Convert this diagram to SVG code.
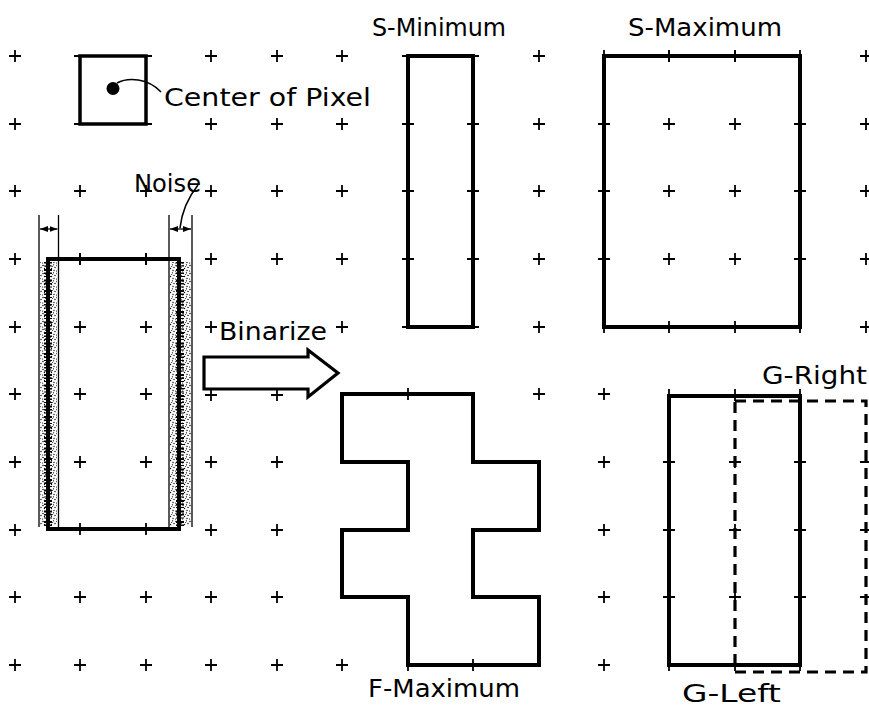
<svg xmlns="http://www.w3.org/2000/svg" width="869" height="709" viewBox="0 0 869 709">
<style>
.lbl{font-family:"DejaVu Sans","Liberation Sans",sans-serif;font-size:25px;fill:#000}
.thick{fill:none;stroke:#000;stroke-width:4;stroke-linejoin:miter;stroke-linecap:square}
.thin{fill:none;stroke:#000;stroke-width:1.3}
.grid{fill:none;stroke:#000;stroke-width:1.8}
.dash{fill:none;stroke:#000;stroke-width:3.2;stroke-dasharray:11 7}
.lead{fill:none;stroke:#000;stroke-width:1.6}
</style>
<defs>
<marker id="dimArrow" viewBox="0 0 8 6" refX="8" refY="3" markerWidth="8" markerHeight="6" markerUnits="userSpaceOnUse" orient="auto-start-reverse">
<path d="M0,0 L8,3 L0,6 Z" fill="#000"/>
</marker>
<pattern id="stip" width="7" height="8" patternUnits="userSpaceOnUse">
<circle cx="1" cy="1.5" r="0.75"/><circle cx="4.5" cy="0.8" r="0.65"/><circle cx="6" cy="3.5" r="0.7"/>
<circle cx="2.5" cy="4.5" r="0.7"/><circle cx="5" cy="6.5" r="0.65"/><circle cx="0.6" cy="7" r="0.6"/>
<circle cx="3.6" cy="2.6" r="0.5"/>
</pattern>
</defs>
<rect width="869" height="709" fill="#fff"/>

<g id="grid">
<path class="grid" d="
M9,56h12M15,50v12 M205,56h12M211,50v12 M271,56h12M277,50v12 M336,56h12M342,50v12 M533,56h12M539,50v12 M663,56h12M669,50v12 M729,56h12M735,50v12 M860,56h12M866,50v12
M9,124h12M15,118v12 M205,124h12M211,118v12 M271,124h12M277,118v12 M336,124h12M342,118v12 M533,124h12M539,118v12 M663,124h12M669,118v12 M729,124h12M735,118v12 M860,124h12M866,118v12
M9,191h12M15,185v12 M74,191h12M80,185v12 M140,191h12M146,185v12 M205,191h12M211,185v12 M271,191h12M277,185v12 M336,191h12M342,185v12 M533,191h12M539,185v12 M663,191h12M669,185v12 M729,191h12M735,185v12 M860,191h12M866,185v12
M9,259h12M15,253v12 M74,259h12M80,253v12 M140,259h12M146,253v12 M205,259h12M211,253v12 M271,259h12M277,253v12 M336,259h12M342,253v12 M533,259h12M539,253v12 M663,259h12M669,253v12 M729,259h12M735,253v12 M860,259h12M866,253v12
M9,327h12M15,321v12 M74,327h12M80,321v12 M140,327h12M146,321v12 M205,327h12M211,321v12 M336,327h12M342,321v12 M533,327h12M539,321v12 M860,327h12M866,321v12
M9,394h12M15,388v12 M74,394h12M80,388v12 M140,394h12M146,388v12 M205,395h12M211,390v11 M271,395h12M277,390v11 M533,394h12M539,388v12 M598,394h12M604,388v12
M9,462h12M15,456v12 M74,462h12M80,456v12 M140,462h12M146,456v12 M205,462h12M211,456v12 M271,462h12M277,456v12 M598,462h12M604,456v12 M729,462h12M735,456v12
M9,530h12M15,524v12 M205,530h12M211,524v12 M271,530h12M277,524v12 M598,530h12M604,524v12 M729,530h12M735,524v12
M9,597h12M15,591v12 M74,597h12M80,591v12 M140,597h12M146,591v12 M205,597h12M211,591v12 M271,597h12M277,591v12 M598,597h12M604,591v12 M729,597h12M735,591v12
M9,665h12M15,659v12 M74,665h12M80,659v12 M140,665h12M146,659v12 M205,665h12M211,659v12 M271,665h12M277,659v12 M336,665h12M342,659v12 M598,665h12M604,659v12
"/>
<path class="grid" d="M74,56h12M140,56h12M74,124h12M140,124h12 M402,56h12M467,56h12M402,124h12M467,124h12M402,191h12M467,191h12M402,259h12M467,259h12M402,327h12M467,327h12
M604,50v12M669,50v12M735,50v12M800,50v12 M598,124h12M794,124h12M598,191h12M794,191h12M598,259h12M794,259h12 M604,321v12M669,321v12M735,321v12M800,321v12
M80,253v12M146,253v12M80,523v12M146,523v12
M669,389v12M735,389v12M800,389v12 M663,462h12M794,462h12M663,530h12M794,530h12M663,597h12M794,597h12 M669,659v12M735,659v12M800,659v12
M860,462h12M860,530h12M860,597h12
M408,388v12M408,659v12M473,659v12"/>
</g>

<g id="pixel">
<rect class="thick" x="80" y="56" width="66" height="68" style="stroke-width:3.5"/>
<circle cx="113" cy="88.5" r="6.5" fill="#000"/>
<text class="lbl" x="164" y="106" textLength="207" lengthAdjust="spacingAndGlyphs">Center of Pixel</text>
</g>

<g id="noisy">
<rect x="40" y="262" width="17" height="264" fill="url(#stip)"/>
<rect x="170" y="262" width="21" height="264" fill="url(#stip)"/>
<line class="thin" x1="39" y1="215" x2="39" y2="527"/>
<line class="thin" x1="58.5" y1="215" x2="58.5" y2="527"/>
<line class="thin" x1="169" y1="215" x2="169" y2="527"/>
<line class="thin" x1="192" y1="215" x2="192" y2="527"/>
<path d="M48,262V526M180,262V526" fill="none" stroke="#000" stroke-width="8" stroke-dasharray="1.5 2 1 2.5 2 1.5"/>
<path class="thick" d="M48,259H179V529H48Z"/>
<text class="lbl" x="134" y="192" textLength="67" lengthAdjust="spacingAndGlyphs">Noise</text>
</g>

<g id="binarize">
<polygon points="204,357 308,357 308,350 338,373 308,397 308,389 204,389" fill="#fff" stroke="#000" stroke-width="3.2" stroke-linejoin="miter"/>
<text class="lbl" x="219" y="340" textLength="108" lengthAdjust="spacingAndGlyphs">Binarize</text>
</g>

<g id="s-minimum">
<rect class="thick" x="408" y="56" width="65" height="271"/>
<text class="lbl" x="372" y="36" textLength="134" lengthAdjust="spacingAndGlyphs">S-Minimum</text>
</g>

<g id="s-maximum">
<rect class="thick" x="604" y="56" width="196" height="271"/>
<text class="lbl" x="628" y="36" textLength="154" lengthAdjust="spacingAndGlyphs">S-Maximum</text>
</g>

<g id="f-maximum">
<polygon class="thick" points="342,394 473,394 473,462 539,462 539,530 473,530 473,597 539,597 539,665 408,665 408,597 342,597 342,530 408,530 408,462 342,462"/>
<text class="lbl" x="368" y="697" textLength="152" lengthAdjust="spacingAndGlyphs">F-Maximum</text>
</g>

<g id="g-left">
<rect class="thick" x="669" y="396" width="131" height="269"/>
<text class="lbl" x="682" y="702" textLength="99" lengthAdjust="spacingAndGlyphs">G-Left</text>
</g>

<g id="g-right">
<rect class="dash" x="735" y="401" width="131" height="271"/>
<text class="lbl" x="762" y="384" textLength="105" lengthAdjust="spacingAndGlyphs">G-Right</text>
</g>

<g id="connectors">
<path class="lead" d="M117,83 C128,77 148,78 161,92"/>
<path class="lead" d="M198,185 C190,195 182,210 180,228"/>
<line class="thin" x1="40" y1="229" x2="57.5" y2="229" marker-start="url(#dimArrow)" marker-end="url(#dimArrow)"/>
<line class="thin" x1="170" y1="229" x2="191" y2="229" marker-start="url(#dimArrow)" marker-end="url(#dimArrow)"/>
</g>
</svg>
